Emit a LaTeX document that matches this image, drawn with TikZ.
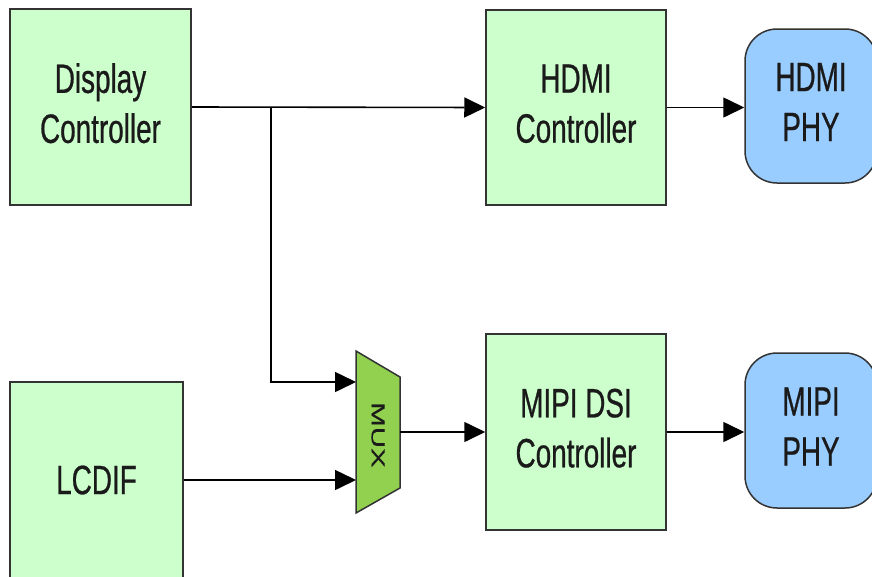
\documentclass[tikz,border=0pt]{standalone}
\usepackage{fontspec}
\setmainfont{Liberation Sans}
\newfontfamily\narrowfont[FakeStretch=0.68,FakeBold=0.6]{Liberation Sans}
\newfontfamily\widefont[FakeStretch=1.55,FakeBold=0.5]{Liberation Sans}
\usetikzlibrary{arrows.meta}
\definecolor{boxgreen}{HTML}{CCFFCC}
\definecolor{phyblue}{HTML}{99CCFF}
\definecolor{muxgreen}{HTML}{92D050}
\definecolor{edgegray}{HTML}{333333}
\definecolor{textdark}{HTML}{1A1A1A}
\begin{document}
\begin{tikzpicture}[x=1pt,y=-1pt,
  blk/.style={draw=edgegray,line width=1.5pt,fill=boxgreen,text=textdark,
    font=\narrowfont\fontsize{41}{50}\selectfont,align=center,inner sep=0pt},
  twoline/.style={text depth=8pt},
  phy/.style={blk,fill=phyblue,rounded corners=32pt},
  conn/.style={line width=1.6pt,-{Triangle[length=21pt,width=20pt]}}]
\useasboundingbox (0,0) rectangle (872,576);
\clip (0,0) rectangle (872,576);
\node[blk,twoline,minimum width=181pt,minimum height=196pt] (disp) at (100.5,107) {Display\\Controller};
\node[blk,twoline,minimum width=180pt,minimum height=195pt] (hdmic) at (576,107.5) {HDMI\\Controller};
\node[phy,twoline,minimum width=132pt,minimum height=154pt] (hdmiphy) at (811,106) {HDMI\\PHY};
\node[blk,minimum width=173pt,minimum height=196pt] (lcdif) at (96.5,480) {LCDIF};
\node[blk,twoline,minimum width=180pt,minimum height=196pt] (mipic) at (576,432) {MIPI DSI\\Controller};
\node[phy,twoline,minimum width=132pt,minimum height=155pt] (mipiphy) at (811,430.5) {MIPI\\PHY};
\draw[fill=muxgreen,draw=edgegray,line width=1.5pt] (356,351) -- (400,377) -- (400,488) -- (356,513) -- cycle;
\node[rotate=-90,text=textdark,font=\widefont\fontsize{19}{20}\selectfont,inner sep=0pt] (muxlabel) at (378,435) {MUX};
\coordinate (muxin1) at (356,382);
\coordinate (muxin2) at (356,480);
\coordinate (muxout) at (400,432);
\coordinate (branch) at (271,107);
\draw[conn] (disp.east) -- (hdmic.west);
\draw[conn] (branch) |- (muxin1);
\draw[conn] (lcdif.east) -- (muxin2);
\draw[conn] (muxout) -- (muxout -| mipic.west);
\draw[conn] (hdmic.east) -- (hdmic.east -| hdmiphy.west);
\draw[conn] (mipic.east) -- (mipic.east -| mipiphy.west);
\end{tikzpicture}
\end{document}
